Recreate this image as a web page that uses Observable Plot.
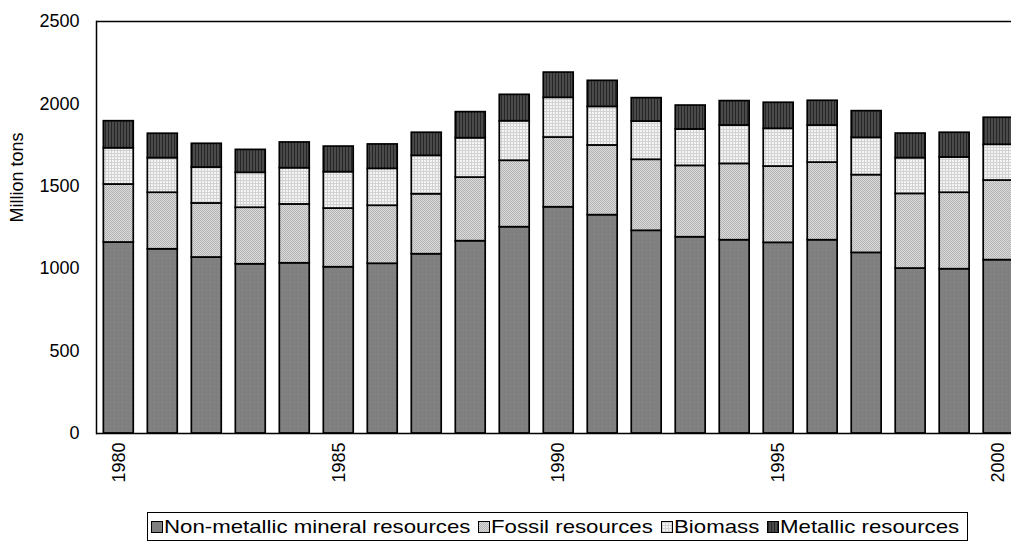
<!DOCTYPE html>
<html>
<head>
<meta charset="utf-8">
<script src="https://cdn.jsdelivr.net/npm/d3@7"></script>
<script src="https://cdn.jsdelivr.net/npm/@observablehq/plot@0.6"></script>
<style>
  html, body { margin: 0; padding: 0; background: #fff; }
  body { width: 1011px; height: 544px; position: relative; overflow: hidden; font-family: "Liberation Sans", Arial, sans-serif; }
  #legend { position: absolute; left: 147px; top: 512px; width: 821px; height: 29px; border: 1px solid #000; box-sizing: border-box; display: flex; align-items: center; white-space: nowrap; padding-left: 3px; }
  .item { display: flex; align-items: center; margin-right: 8px; }
  .sw { width: 10px; height: 10px; border: 1.5px solid #000; margin-right: 1px; }
  .sw svg { display: block; }
  .labwrap { display: inline-block; overflow: visible; }
  .lab { font-size: 19px; display: inline-block; transform: scaleX(1.17); transform-origin: 0 50%; }
</style>
</head>
<body>
<svg width="0" height="0" style="position:absolute">
  <defs>
    <pattern id="pNM" width="4" height="4" patternUnits="userSpaceOnUse">
      <rect width="4" height="4" fill="#808080"/>
      <rect width="1" height="1" fill="#7a7a7a"/>
      <rect x="2" y="2" width="1" height="1" fill="#868686"/>
    </pattern>
    <pattern id="pF" width="2" height="2" patternUnits="userSpaceOnUse">
      <rect width="2" height="2" fill="#dadada"/>
      <rect width="1" height="1" fill="#b4b4b4"/>
      <rect x="1" y="1" width="1" height="1" fill="#b4b4b4"/>
    </pattern>
    <pattern id="pB" width="3" height="3" patternUnits="userSpaceOnUse">
      <rect width="3" height="3" fill="#f4f4f4"/>
      <rect width="3" height="1" fill="#d2d2d2"/>
      <rect width="1" height="3" fill="#d2d2d2"/>
    </pattern>
    <pattern id="pM" width="3" height="3" patternUnits="userSpaceOnUse">
      <rect width="3" height="3" fill="#4a4a4a"/>
      <rect width="1" height="3" fill="#262626"/>
    </pattern>
  </defs>
</svg>
<div id="chart"></div>
<div id="legend"></div>
<script>
const years = [1980,1981,1982,1983,1984,1985,1986,1987,1988,1989,1990,1991,1992,1993,1994,1995,1996,1997,1998,1999,2000];
const nonMetallic = [1159,1118,1068,1027,1033,1009,1030,1088,1167,1252,1373,1325,1230,1191,1173,1157,1173,1096,1001,997,1052];
const fossil      = [352,343,328,343,357,356,352,364,386,403,423,423,431,433,463,463,471,472,453,464,483];
const biomass     = [220,210,218,212,220,221,224,233,239,240,241,234,232,221,233,229,225,226,217,214,217];
const metallic    = [164,148,144,139,156,155,148,140,158,160,153,158,142,145,148,158,150,162,149,150,164];
const seriesNames = ["Non-metallic mineral resources", "Fossil resources", "Biomass", "Metallic resources"];
const seriesFills = ["url(#pNM)", "url(#pF)", "url(#pB)", "url(#pM)"];
const yTicks = [0, 500, 1000, 1500, 2000, 2500];
const xTicks = [1980, 1985, 1990, 1995, 2000];
const yLabel = ["Million tons"];

const seriesValues = [nonMetallic, fossil, biomass, metallic];
const data = [];
years.forEach((yr, i) => {
  seriesNames.forEach((s, k) => data.push({year: yr, series: s, value: seriesValues[k][i]}));
});

const chart = Plot.plot({
  width: 1011,
  height: 505,
  marginTop: 21,
  marginBottom: 72,
  marginLeft: 96,
  marginRight: 0,
  style: {fontFamily: "'Liberation Sans', Arial, sans-serif", fontSize: "18px", background: "white", overflow: "hidden"},
  x: {type: "band", domain: years, range: [96.75, 1019.7], paddingInner: 0.32, paddingOuter: 0.15, round: false, label: null},
  y: {domain: [0, 2500], label: null},
  color: {domain: seriesNames, range: seriesFills},
  marks: [
    Plot.barY(data, {x: "year", y: "value", fill: "series", stroke: "#000", strokeWidth: 1.7, order: seriesNames}),
    Plot.ruleY([0, 2500], {stroke: "#000", strokeWidth: 1.5}),
    Plot.frame({anchor: "left", stroke: "#000", strokeWidth: 1.5}),
    Plot.axisY({ticks: yTicks, tickFormat: d => String(d), tickSize: 0, tickPadding: 17, fontSize: 18, label: null}),
    Plot.axisX({ticks: xTicks, tickFormat: d => String(d), tickSize: 0, tickPadding: 9, tickRotate: -90, fontSize: 18, label: null}),
    Plot.text(yLabel, {frameAnchor: "left", text: d => d, rotate: -90, dx: -79, dy: -5, fontSize: 18})
  ]
});
document.getElementById("chart").appendChild(chart);

const legend = document.getElementById("legend");
seriesNames.forEach((lab, k) => {
  const it = document.createElement("div");
  it.className = "item";
  it.innerHTML = `<div class="sw"><svg width="10" height="10"><rect width="10" height="10" fill="${seriesFills[k]}"/></svg></div><span class="labwrap"><span class="lab">${lab}</span></span>`;
  legend.appendChild(it);
  const inner = it.querySelector(".lab");
  it.querySelector(".labwrap").style.width = inner.getBoundingClientRect().width + "px";
});
</script>
</body>
</html>
